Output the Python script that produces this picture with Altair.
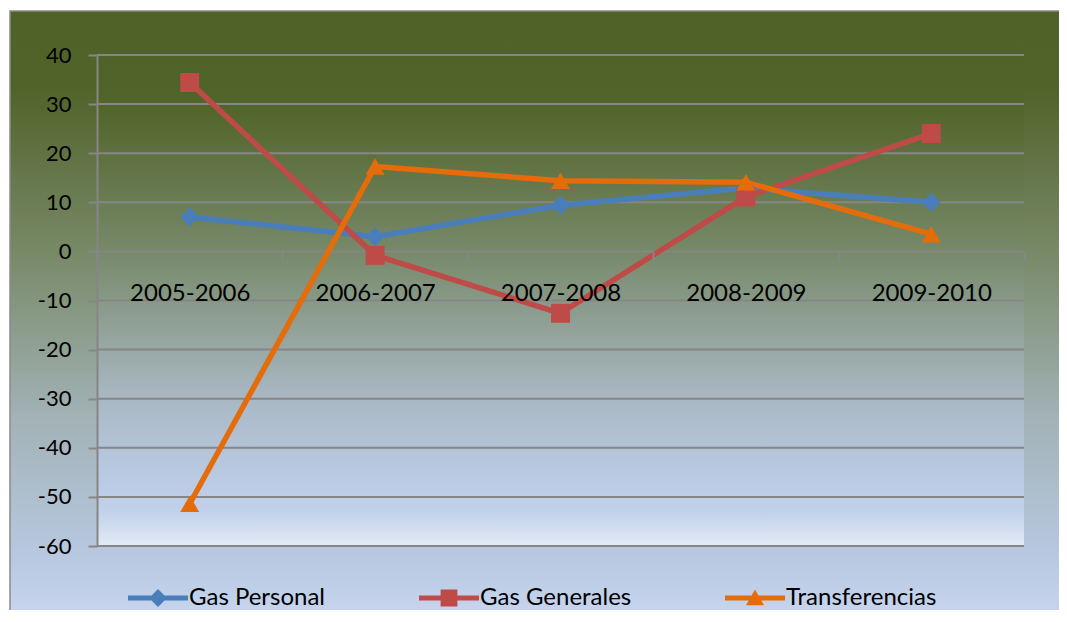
import altair as alt
import pandas as pd

# ---- data ----
categories = ["2005-2006", "2006-2007", "2007-2008", "2008-2009", "2009-2010"]
gas_personal = [7.0, 3.0, 9.4, 12.9, 10.0]
gas_generales = [34.4, -0.8, -12.6, 11.1, 24.0]
transferencias = [-51.4, 17.3, 14.4, 14.1, 3.5]
series_names = ["Gas Personal", "Gas Generales", "Transferencias"]
y_ticks = [-60, -50, -40, -30, -20, -10, 0, 10, 20, 30, 40]

# ---- styling ----
series_colors = ["#4a7ebb", "#be4b48", "#e46c0a"]
marker_shapes = ["diamond", "square", "triangle-up"]
legend_paths = [
    "M-1,-0.085H1V0.085H-1Z M0,-0.3L0.3,0L0,0.3L-0.3,0Z",
    "M-1,-0.085H1V0.085H-1Z M-0.28,-0.28H0.28V0.28H-0.28Z",
    "M-1,-0.085H1V0.085H-1Z M0,-0.28L0.3,0.24L-0.3,0.24Z",
]
FONT = "Lato"
GRID = "#868686"
W, H = 927, 491

rows = []
for name, vals in zip(series_names, [gas_personal, gas_generales, transferencias]):
    for c, v in zip(categories, vals):
        rows.append({"cat": c, "serie": name, "value": v})
df = pd.DataFrame(rows)
grid_df = pd.DataFrame({"value": y_ticks})
one = pd.DataFrame({"k": [0]})

y_scale = alt.Scale(domain=[-60, 40], nice=False, zero=False)
x_scale = alt.Scale(type="band", domain=categories, paddingInner=0, paddingOuter=0)

y_axis = alt.Axis(
    title=None, values=y_ticks, grid=False, domain=True, domainColor=GRID,
    domainWidth=2, ticks=True, tickColor=GRID, tickWidth=2, tickSize=9,
    labelFont=FONT, labelFontSize=22, labelColor="#000000", labelPadding=17,
    labelExpr="datum.value + ''", zindex=1,
)
zero_offset = -(H - H * 40 / 100.0)
x_axis = alt.Axis(
    title=None, orient="bottom", offset=zero_offset, grid=False, domain=False,
    ticks=True, tickColor=GRID, tickWidth=2, tickSize=8, tickBand="extent",
    labelFont=FONT, labelFontSize=24, labelColor="#000000", labelPadding=22,
    labelAngle=0, zindex=1,
)

Y = alt.Y("value:Q", scale=y_scale, axis=y_axis)
X = alt.X("cat:N", scale=x_scale, axis=x_axis, sort=categories)

color_enc = alt.Color("serie:N", scale=alt.Scale(domain=series_names, range=series_colors), legend=None)

outer_grad = alt.LinearGradient(
    gradient="linear", x1=0, y1=0, x2=0, y2=1,
    stops=[
        alt.GradientStop(offset=0, color="#4f6228"),
        alt.GradientStop(offset=0.12, color="#506329"),
        alt.GradientStop(offset=0.4, color="#7a8b6b"),
        alt.GradientStop(offset=0.65, color="#a2b2b6"),
        alt.GradientStop(offset=0.88, color="#b8c9e2"),
        alt.GradientStop(offset=0.97, color="#c8d6ee"),
        alt.GradientStop(offset=1, color="#dde6f3"),
    ],
)
plot_grad = alt.LinearGradient(
    gradient="linear", x1=0, y1=0, x2=0, y2=1,
    stops=[
        alt.GradientStop(offset=0, color="#4f6228"),
        alt.GradientStop(offset=0.1, color="#516429"),
        alt.GradientStop(offset=0.4, color="#778969"),
        alt.GradientStop(offset=0.7, color="#a9b8c4"),
        alt.GradientStop(offset=0.88, color="#bccce6"),
        alt.GradientStop(offset=0.93, color="#c2d1ea"),
        alt.GradientStop(offset=1, color="#e4eaf5"),
    ],
)

outer_bg = alt.Chart(one).mark_rect(fill=outer_grad, stroke="#8a8a8a", strokeWidth=1.5).encode(
    x=alt.value(-87), x2=alt.value(W + 60), y=alt.value(-44), y2=alt.value(H + 90)
)
plot_bg = alt.Chart(one).mark_rect(fill=plot_grad).encode(
    x=alt.value(0), x2=alt.value(W), y=alt.value(0), y2=alt.value(H)
)
grid = alt.Chart(grid_df).mark_rule(color=GRID, strokeWidth=2).encode(y=Y)

lines = alt.Chart(df).mark_line(strokeWidth=5.5, strokeCap="round", strokeJoin="round").encode(
    x=X, y=Y, color=color_enc, detail="serie:N"
)
points = alt.Chart(df).mark_point(filled=True, size=360, opacity=1, strokeWidth=0).encode(
    x=X, y=Y, color=color_enc,
    shape=alt.Shape("serie:N", scale=alt.Scale(domain=series_names, range=marker_shapes), legend=None),
)
legend_layer = alt.Chart(df).transform_filter("false").mark_point(filled=True, opacity=1, strokeWidth=0).encode(
    color=alt.Color(
        "serie:N", scale=alt.Scale(domain=series_names, range=series_colors),
        legend=alt.Legend(
            title=None, orient="none", legendX=31, legendY=513, direction="horizontal",
            columns=3, columnPadding=93, symbolSize=3600, symbolStrokeWidth=0,
            symbolOpacity=1, labelFont=FONT, labelFontSize=24, labelColor="#000000",
            labelOffset=1, labelLimit=400,
        ),
    ),
    shape=alt.Shape("serie:N", scale=alt.Scale(domain=series_names, range=legend_paths)),
)

chart = (
    alt.layer(outer_bg, plot_bg, grid, lines, points, legend_layer)
    .resolve_scale(color="independent", shape="independent")
    .properties(
        width=W, height=H,
        autosize=alt.AutoSizeParams(type="none"),
        padding={"left": 89, "top": 47, "right": 35, "bottom": 64},
        background="#ffffff",
    )
    .configure_view(stroke=None)
)

chart.save("out.html", embed_options={"renderer": "svg", "actions": False})
